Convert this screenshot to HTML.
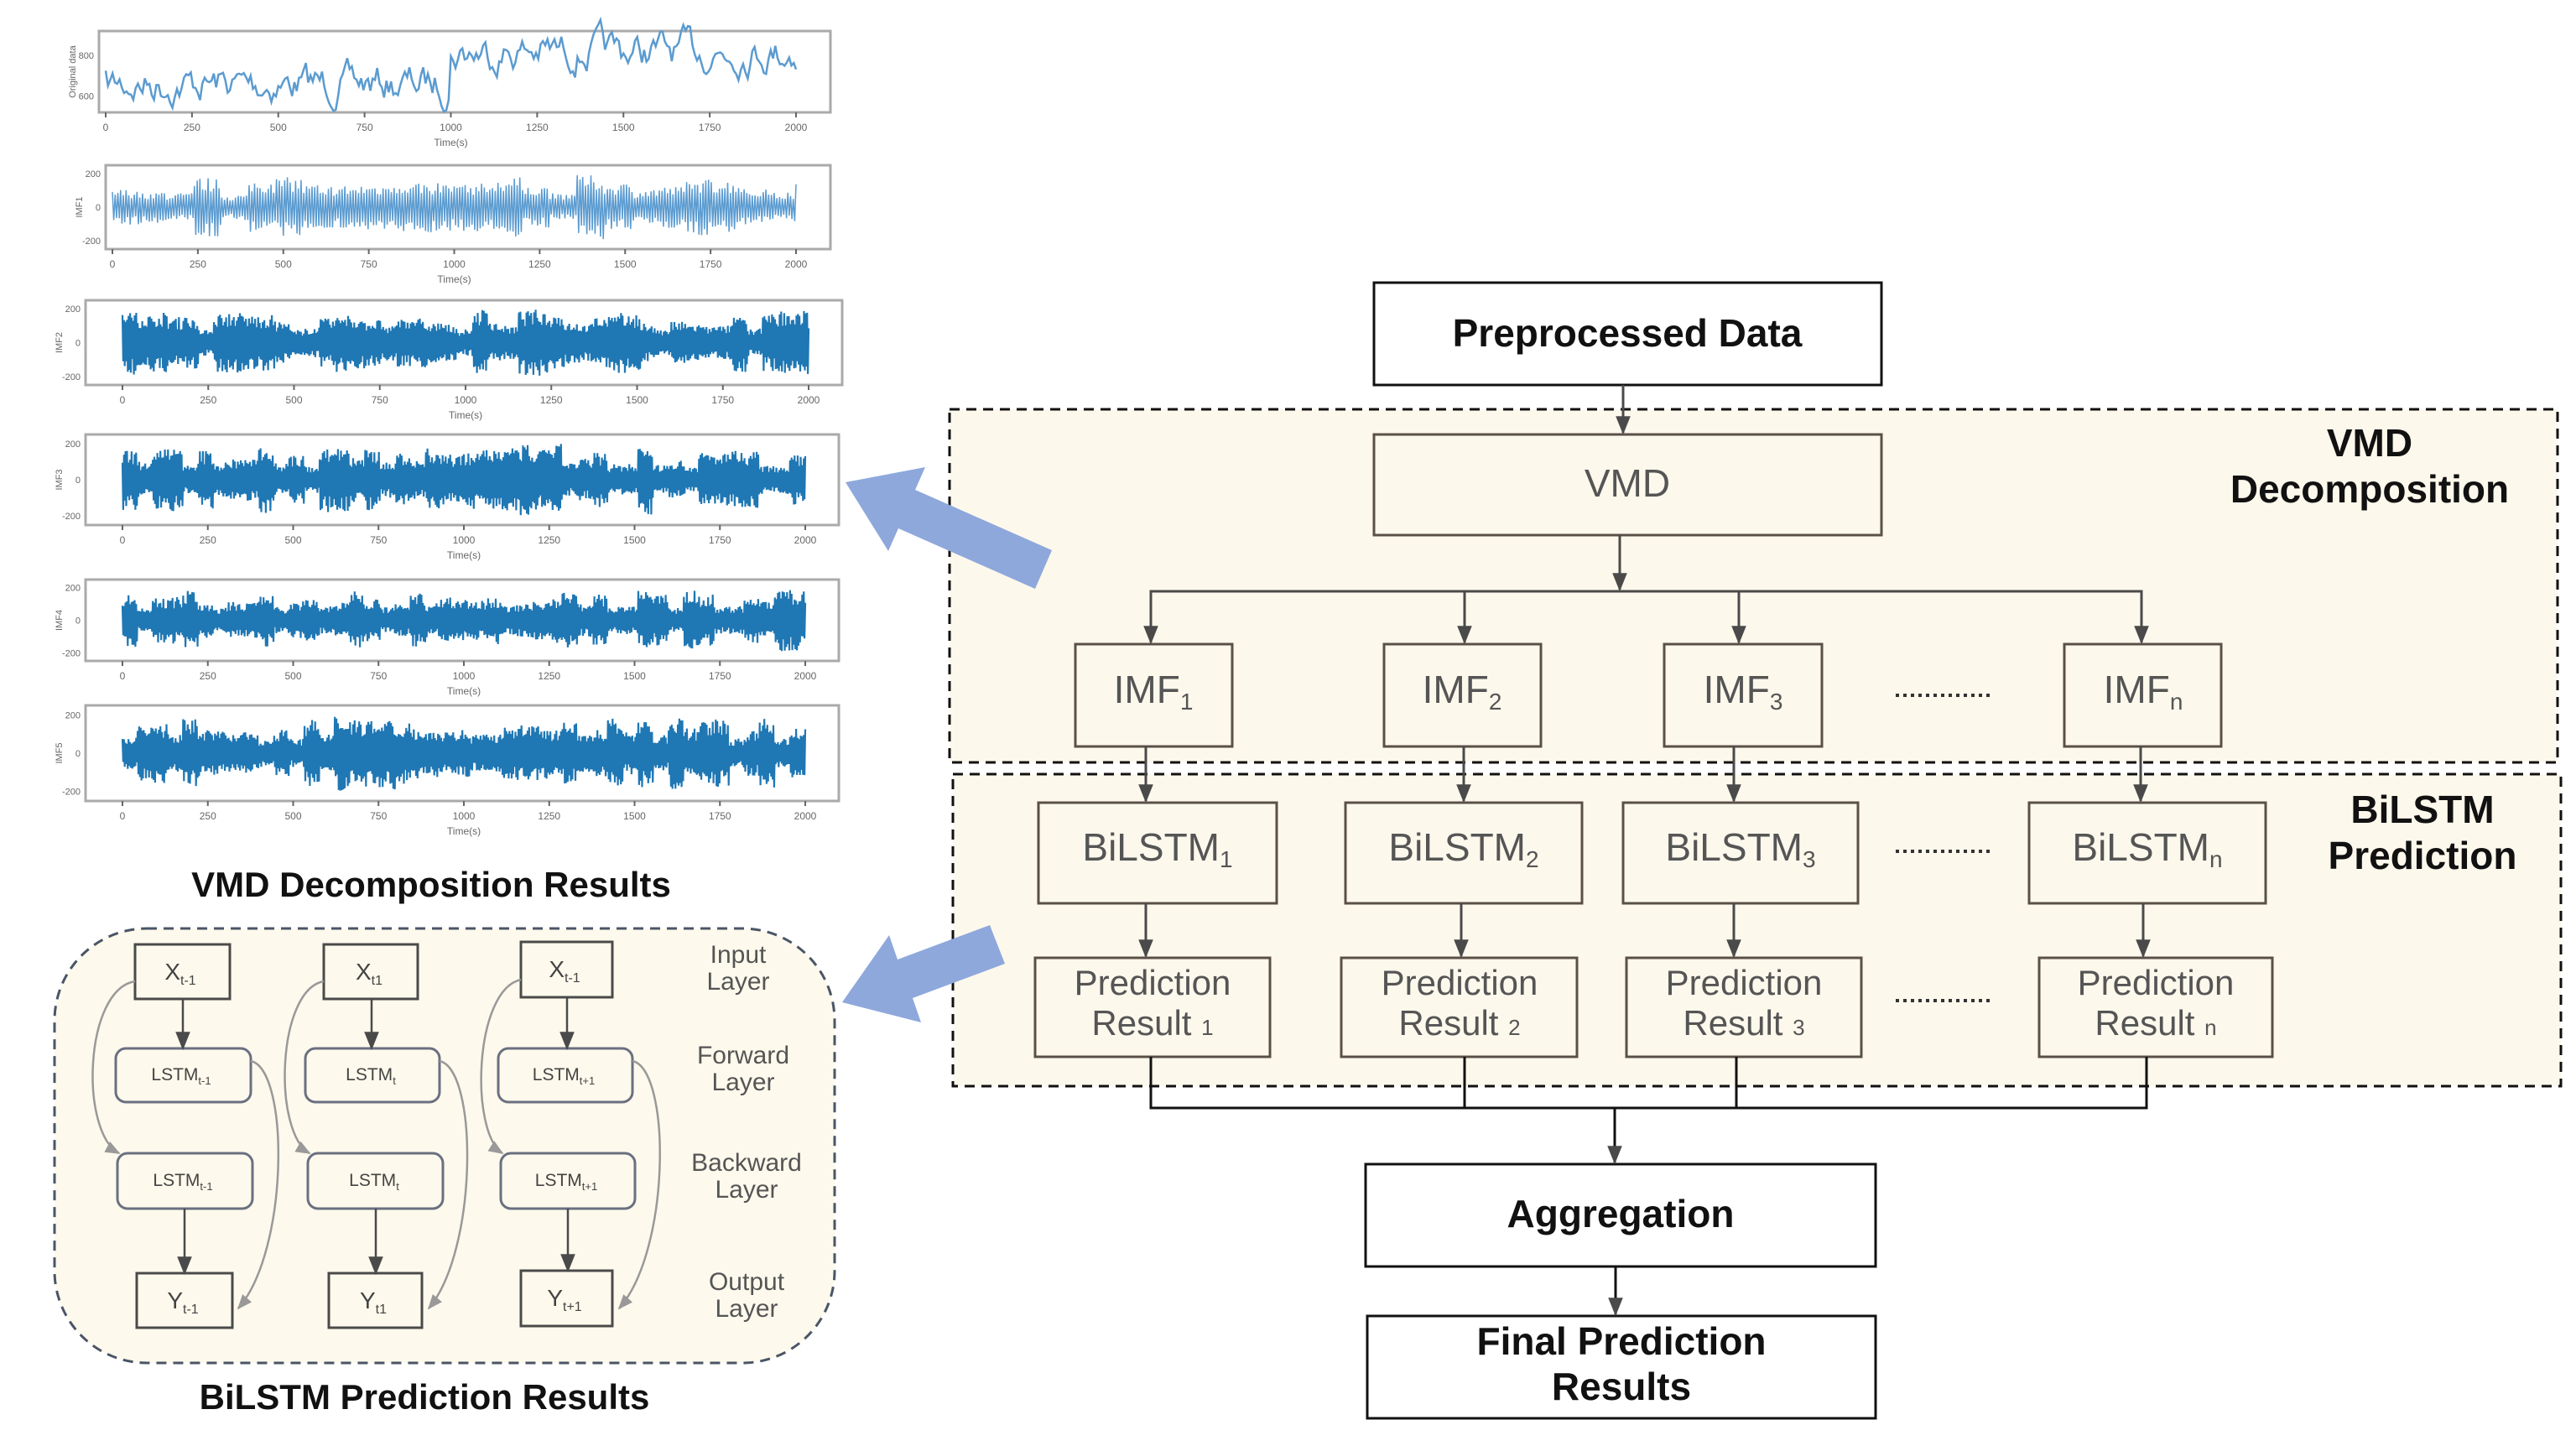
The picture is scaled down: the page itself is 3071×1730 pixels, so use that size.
<!DOCTYPE html>
<html><head><meta charset="utf-8"><style>
html,body{margin:0;padding:0;background:#fff;}
svg{display:block;font-family:"Liberation Sans",sans-serif;}
</style></head><body>
<svg id="s" width="3071" height="1730" viewBox="0 0 3071 1730" xmlns="http://www.w3.org/2000/svg">
<defs>
<marker id="ab" viewBox="0 0 10 10" markerWidth="22" markerHeight="22" refX="9" refY="5" orient="auto" markerUnits="userSpaceOnUse"><path d="M0,1 L10,5 L0,9 z" fill="#4a4a4a"/></marker>
<marker id="ag" viewBox="0 0 10 10" markerWidth="18" markerHeight="18" refX="9" refY="5" orient="auto" markerUnits="userSpaceOnUse"><path d="M0,1 L10,5 L0,9 z" fill="#999"/></marker>
</defs>

<g id="plots"></g>
<text x="514" y="1069" font-size="42" font-weight="bold" text-anchor="middle" fill="#111">VMD Decomposition Results</text>

<rect x="65" y="1107" width="930" height="518" rx="110" fill="#fdf9ec" stroke="#4a5566" stroke-width="3" stroke-dasharray="12,8"/>
<g stroke="#4a4a4a" stroke-width="3" fill="none">
<rect x="161" y="1126" width="113" height="65"/>
<rect x="386" y="1126" width="112" height="65"/>
<rect x="621" y="1123" width="109" height="66"/>
<rect x="163" y="1518" width="114" height="65"/>
<rect x="392" y="1518" width="111" height="65"/>
<rect x="621" y="1515" width="109" height="66"/>
</g>
<g stroke="#6a7080" stroke-width="3" fill="#fdf9ec">
<rect x="138" y="1250" width="161" height="64" rx="12"/>
<rect x="364" y="1250" width="160" height="64" rx="12"/>
<rect x="594" y="1250" width="160" height="64" rx="12"/>
<rect x="140" y="1375" width="161" height="66" rx="12"/>
<rect x="367" y="1375" width="161" height="66" rx="12"/>
<rect x="597" y="1375" width="160" height="66" rx="12"/>
</g>
<g stroke="#4a4a4a" stroke-width="2.5" marker-end="url(#ab)">
<line x1="218" y1="1191" x2="218" y2="1250"/><line x1="443" y1="1191" x2="443" y2="1250"/><line x1="676" y1="1189" x2="676" y2="1250"/>
<line x1="220" y1="1441" x2="220" y2="1518"/><line x1="448" y1="1441" x2="448" y2="1518"/><line x1="677" y1="1441" x2="677" y2="1515"/>
</g>
<g stroke="#999" stroke-width="2.5" fill="none" marker-end="url(#ag)">
<path d="M161,1170 C100,1180 95,1350 142,1375"/>
<path d="M386,1170 C330,1180 325,1350 369,1375"/>
<path d="M621,1168 C565,1180 560,1350 599,1375"/>
<path d="M299,1265 C345,1275 345,1490 284,1560"/>
<path d="M524,1265 C570,1275 570,1490 511,1560"/>
<path d="M754,1265 C800,1275 800,1490 738,1560"/>
</g>
<g font-size="28" fill="#444" text-anchor="middle">
<text x="215" y="1168">X<tspan font-size="16" dy="6">t-1</tspan></text>
<text x="440" y="1168">X<tspan font-size="16" dy="6">t1</tspan></text>
<text x="673" y="1165">X<tspan font-size="16" dy="6">t-1</tspan></text>
<text x="218" y="1560">Y<tspan font-size="16" dy="6">t-1</tspan></text>
<text x="445" y="1560">Y<tspan font-size="16" dy="6">t1</tspan></text>
<text x="673" y="1557">Y<tspan font-size="16" dy="6">t+1</tspan></text>
</g>
<g font-size="21" fill="#444" text-anchor="middle">
<text x="216" y="1288">LSTM<tspan font-size="13" dy="5">t-1</tspan></text>
<text x="442" y="1288">LSTM<tspan font-size="13" dy="5">t</tspan></text>
<text x="672" y="1288">LSTM<tspan font-size="13" dy="5">t+1</tspan></text>
<text x="218" y="1414">LSTM<tspan font-size="13" dy="5">t-1</tspan></text>
<text x="446" y="1414">LSTM<tspan font-size="13" dy="5">t</tspan></text>
<text x="675" y="1414">LSTM<tspan font-size="13" dy="5">t+1</tspan></text>
</g>
<g font-size="30" fill="#555" text-anchor="middle">
<text x="880" y="1148">Input</text><text x="880" y="1180">Layer</text>
<text x="886" y="1268">Forward</text><text x="886" y="1300">Layer</text>
<text x="890" y="1396">Backward</text><text x="890" y="1428">Layer</text>
<text x="890" y="1538">Output</text><text x="890" y="1570">Layer</text>
</g>
<text x="506" y="1680" font-size="42" font-weight="bold" text-anchor="middle" fill="#111">BiLSTM Prediction Results</text>

<rect x="1132" y="488" width="1917" height="421" fill="#fdf8ec" stroke="#111" stroke-width="3" stroke-dasharray="12,8"/>
<rect x="1136" y="923" width="1917" height="372" fill="#fdf8ec" stroke="#111" stroke-width="3" stroke-dasharray="12,8"/>

<g fill="#8ea8dc">
<path d="M1254,656 L1091,584 L1103,557 L1008,575 L1059,657 L1071,630 L1234,702 z"/>
<path d="M1198,1149 L1088,1190 L1098,1219 L1004,1195 L1060,1115 L1070,1144 L1180,1103 z"/>
</g>

<g stroke="#5a5048" stroke-width="3" fill="#fdf8ec">
<rect x="1638" y="518" width="605" height="120"/>
<rect x="1282" y="768" width="187" height="122"/>
<rect x="1650" y="768" width="187" height="122"/>
<rect x="1984" y="768" width="188" height="122"/>
<rect x="2461" y="768" width="187" height="122"/>
<rect x="1238" y="957" width="284" height="120"/>
<rect x="1604" y="957" width="282" height="120"/>
<rect x="1935" y="957" width="280" height="120"/>
<rect x="2419" y="957" width="282" height="120"/>
<rect x="1234" y="1142" width="280" height="118"/>
<rect x="1599" y="1142" width="281" height="118"/>
<rect x="1939" y="1142" width="280" height="118"/>
<rect x="2431" y="1142" width="278" height="118"/>
</g>
<g stroke="#111" stroke-width="3" fill="#fff">
<rect x="1638" y="337" width="605" height="122"/>
<rect x="1628" y="1388" width="608" height="122"/>
<rect x="1630" y="1569" width="606" height="122"/>
</g>

<g stroke="#4a4a4a" stroke-width="3" fill="none">
<line x1="1935" y1="459" x2="1935" y2="516" marker-end="url(#ab)"/>
<line x1="1931" y1="638" x2="1931" y2="703" marker-end="url(#ab)"/>
<polyline points="1372,766 1372,705 2553,705 2553,766"/>
<line x1="1372" y1="705" x2="1372" y2="766" marker-end="url(#ab)"/>
<line x1="1746" y1="705" x2="1746" y2="766" marker-end="url(#ab)"/>
<line x1="2073" y1="705" x2="2073" y2="766" marker-end="url(#ab)"/>
<line x1="2553" y1="705" x2="2553" y2="766" marker-end="url(#ab)"/>
<line x1="1366" y1="890" x2="1366" y2="955" marker-end="url(#ab)"/>
<line x1="1745" y1="890" x2="1745" y2="955" marker-end="url(#ab)"/>
<line x1="2067" y1="890" x2="2067" y2="955" marker-end="url(#ab)"/>
<line x1="2552" y1="890" x2="2552" y2="955" marker-end="url(#ab)"/>
<line x1="1366" y1="1077" x2="1366" y2="1140" marker-end="url(#ab)"/>
<line x1="1742" y1="1077" x2="1742" y2="1140" marker-end="url(#ab)"/>
<line x1="2067" y1="1077" x2="2067" y2="1140" marker-end="url(#ab)"/>
<line x1="2555" y1="1077" x2="2555" y2="1140" marker-end="url(#ab)"/>
<polyline points="1372,1260 1372,1321 2559,1321 2559,1260" stroke="#111"/>
<line x1="1746" y1="1260" x2="1746" y2="1321" stroke="#111"/>
<line x1="2070" y1="1260" x2="2070" y2="1321" stroke="#111"/>
<line x1="1925" y1="1321" x2="1925" y2="1386" stroke="#111" marker-end="url(#ab)"/>
<line x1="1926" y1="1510" x2="1926" y2="1567" stroke="#111" marker-end="url(#ab)"/>
</g>

<g font-size="46" font-weight="bold" fill="#111" text-anchor="middle">
<text x="1940" y="413">Preprocessed Data</text>
<text x="1932" y="1463">Aggregation</text>
<text x="1933" y="1615">Final Prediction</text>
<text x="1933" y="1669">Results</text>
<text x="2825" y="544">VMD</text>
<text x="2825" y="599">Decomposition</text>
<text x="2888" y="981">BiLSTM</text>
<text x="2888" y="1036">Prediction</text>
</g>
<g font-size="46" fill="#555" text-anchor="middle">
<text x="1940" y="592">VMD</text>
<text x="1375" y="838">IMF<tspan font-size="28" dy="8">1</tspan></text>
<text x="1743" y="838">IMF<tspan font-size="28" dy="8">2</tspan></text>
<text x="2078" y="838">IMF<tspan font-size="28" dy="8">3</tspan></text>
<text x="2555" y="838">IMF<tspan font-size="28" dy="8">n</tspan></text>
<text x="1380" y="1026">BiLSTM<tspan font-size="28" dy="8">1</tspan></text>
<text x="1745" y="1026">BiLSTM<tspan font-size="28" dy="8">2</tspan></text>
<text x="2075" y="1026">BiLSTM<tspan font-size="28" dy="8">3</tspan></text>
<text x="2560" y="1026">BiLSTM<tspan font-size="28" dy="8">n</tspan></text>
</g>
<g font-size="42" fill="#555" text-anchor="middle">
<text x="1374" y="1186">Prediction</text><text x="1374" y="1234">Result <tspan font-size="26">1</tspan></text>
<text x="1740" y="1186">Prediction</text><text x="1740" y="1234">Result <tspan font-size="26">2</tspan></text>
<text x="2079" y="1186">Prediction</text><text x="2079" y="1234">Result <tspan font-size="26">3</tspan></text>
<text x="2570" y="1186">Prediction</text><text x="2570" y="1234">Result <tspan font-size="26">n</tspan></text>
</g>
<g stroke="#333" stroke-width="4" stroke-dasharray="4,5">
<line x1="2260" y1="829" x2="2372" y2="829"/>
<line x1="2260" y1="1015" x2="2372" y2="1015"/>
<line x1="2260" y1="1193" x2="2372" y2="1193"/>
</g>
</svg>
<script>
(function(){
var g=document.getElementById('plots');var NS='http://www.w3.org/2000/svg';
var seed=7;function r(){seed=(seed*16807)%2147483647;return seed/2147483647;}
function el(n,a,t){var e=document.createElementNS(NS,n);for(var k in a)e.setAttribute(k,a[k]);if(t)e.textContent=t;g.appendChild(e);return e;}
var P=[[118,990,37,134,126,949,'Original data'],[126,990,197,297,134,949,'IMF1'],[102,1004,358,459,146,964,'IMF2'],[102,1000,518,626,146,960,'IMF3'],[102,1000,691,788,146,960,'IMF4'],[102,1000,841,955,146,960,'IMF5']];
P.forEach(function(p,i){
 var x0=p[0],x1=p[1],y0=p[2],y1=p[3],d0=p[4],d1=p[5],c=(y0+y1)/2,h=(y1-y0);
 el('rect',{x:x0,y:y0,width:x1-x0,height:y1-y0,fill:'#fff',stroke:'#aaa','stroke-width':3});
 var pts=[];
 if(i==0){var v=0;for(var k=0;k<=300;k++){var t=k/300;v=0.7*v+(r()-0.5)*0.9;var base=t<0.5?0.15:-0.25;pts.push((d0+t*(d1-d0)).toFixed(1)+','+(c+h*(base+0.45*v*0.8)).toFixed(1));}
  el('polyline',{points:pts.join(' '),fill:'none',stroke:'#5b9bd0','stroke-width':2.5});}
 else{var N=i==1?500:900,env=0.5;for(var k=0;k<=N;k++){var t=k/N;if(k%20==0)env=0.35+r()*0.6;var a=h*0.42*env*(0.5+0.5*r());pts.push((d0+t*(d1-d0)).toFixed(1)+','+(c+(k%2?a:-a)).toFixed(1));}
  el('polyline',{points:pts.join(' '),fill:'none',stroke:i==1?'#5b9bd0':'#1f77b4','stroke-width':i==1?1.5:2.2});}
 for(var j=0;j<=8;j++){var x=d0+j*(d1-d0)/8;el('line',{x1:x,y1:y1,x2:x,y2:y1+6,stroke:'#666','stroke-width':2});
  el('text',{x:x,y:y1+22,'font-size':12,fill:'#666','text-anchor':'middle'},String(j*250));}
 el('text',{x:(d0+d1)/2,y:y1+40,'font-size':12,fill:'#666','text-anchor':'middle'},'Time(s)');
 el('text',{x:x0-28,y:c,'font-size':11,fill:'#666','text-anchor':'middle',transform:'rotate(-90 '+(x0-28)+' '+c+')'},p[6]);
 var lab=i==0?['800','600']:['200','0','-200'];lab.forEach(function(s,m){var yy=i==0?(y0+h*(0.3+0.5*m)):(y0+h*(0.1+0.4*m));el('text',{x:x0-6,y:yy+4,'font-size':11,fill:'#666','text-anchor':'end'},s);});
});
})();
</script>
</body></html>
